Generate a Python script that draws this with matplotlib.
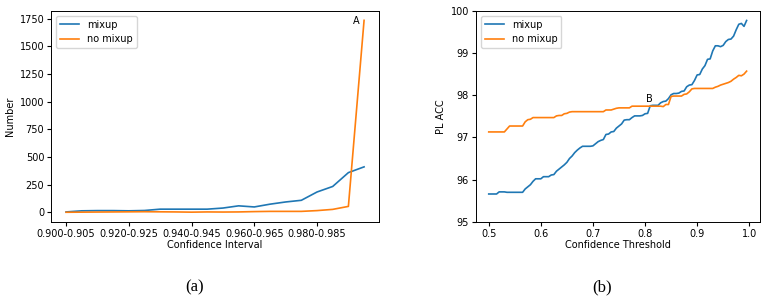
import matplotlib as mpl
mpl.use('Agg')
import matplotlib.pyplot as plt
import numpy as np

# (a) number of samples per confidence interval
intervals = ["%.3f-%.3f" % (0.900 + 0.005 * i, 0.905 + 0.005 * i) for i in range(20)]
num_mixup = [5, 15, 17, 17, 15, 18, 30, 30, 30, 30,
             40, 60, 50, 75, 95, 110, 185, 235, 360, 412]
num_nomixup = [2, 3, 4, 5, 6, 7, 6, 5, 3, 5,
               4, 5, 8, 10, 10, 10, 17, 28, 55, 1735]

# (b) pseudo-label accuracy vs confidence threshold
thresholds = np.round(np.arange(0.5, 0.9951, 0.005), 3)
acc_mixup = [95.66, 95.66, 95.66, 95.66, 95.71, 95.71, 95.71, 95.70, 95.70, 95.70,
             95.70, 95.70, 95.70, 95.70, 95.78, 95.83, 95.88, 95.96, 96.02, 96.02,
             96.02, 96.07, 96.07, 96.07, 96.11, 96.12, 96.20, 96.25, 96.30, 96.35,
             96.41, 96.50, 96.56, 96.64, 96.70, 96.75, 96.79, 96.79, 96.79, 96.79,
             96.80, 96.85, 96.90, 96.93, 96.95, 97.07, 97.08, 97.13, 97.14, 97.22,
             97.27, 97.32, 97.41, 97.42, 97.42, 97.47, 97.51, 97.51, 97.51, 97.52,
             97.56, 97.57, 97.75, 97.76, 97.76, 97.76, 97.82, 97.85, 97.86, 97.92,
             98.01, 98.04, 98.04, 98.05, 98.09, 98.10, 98.20, 98.24, 98.25, 98.35,
             98.48, 98.49, 98.62, 98.70, 98.85, 98.86, 99.05, 99.17, 99.17, 99.15,
             99.18, 99.27, 99.32, 99.33, 99.40, 99.55, 99.68, 99.70, 99.63, 99.77]
acc_nomixup = [97.13, 97.13, 97.13, 97.13, 97.13, 97.13, 97.13, 97.20, 97.27, 97.27,
               97.27, 97.27, 97.27, 97.27, 97.37, 97.42, 97.43, 97.47, 97.47, 97.47,
               97.47, 97.47, 97.47, 97.47, 97.47, 97.47, 97.51, 97.52, 97.52, 97.56,
               97.57, 97.60, 97.61, 97.61, 97.61, 97.61, 97.61, 97.61, 97.61, 97.61,
               97.61, 97.61, 97.61, 97.61, 97.61, 97.65, 97.65, 97.65, 97.67, 97.69,
               97.70, 97.70, 97.70, 97.70, 97.70, 97.74, 97.74, 97.74, 97.74, 97.74,
               97.74, 97.74, 97.74, 97.74, 97.74, 97.74, 97.74, 97.73, 97.78, 97.78,
               97.97, 97.98, 97.98, 97.98, 97.98, 98.02, 98.03, 98.08, 98.15, 98.16,
               98.16, 98.16, 98.16, 98.16, 98.16, 98.16, 98.16, 98.19, 98.21, 98.24,
               98.26, 98.28, 98.30, 98.33, 98.38, 98.42, 98.47, 98.46, 98.50, 98.57]

fs = 7
fig = plt.figure(figsize=(7.75, 2.99), dpi=100)
ax1 = fig.add_axes([0.066, 0.258, 0.423, 0.706])
ax2 = fig.add_axes([0.614, 0.258, 0.366, 0.706])

x = np.arange(len(intervals))
ax1.plot(x, num_mixup, color='#1f77b4', lw=1.2, label='mixup')
ax1.plot(x, num_nomixup, color='#ff7f0e', lw=1.2, label='no mixup')
ax1.set_xticks(x[::4])
ax1.set_xticklabels(intervals[::4])
ax1.set_yticks([0, 250, 500, 750, 1000, 1250, 1500, 1750])
ax1.set_xlabel('Confidence Interval', fontsize=fs, labelpad=1)
ax1.set_ylabel('Number', fontsize=fs, labelpad=3)
ax1.text(18.5, 1725, 'A', fontsize=fs, ha='center', va='center')
ax1.legend(loc='upper left', fontsize=fs)

ax2.plot(thresholds, acc_mixup, color='#1f77b4', lw=1.2, label='mixup')
ax2.plot(thresholds, acc_nomixup, color='#ff7f0e', lw=1.2, label='no mixup')
ax2.set_ylim(95, 100)
ax2.set_xlabel('Confidence Threshold', fontsize=fs, labelpad=1)
ax2.set_ylabel('PL ACC', fontsize=fs, labelpad=3)
ax2.text(0.809, 97.92, 'B', fontsize=fs, ha='center', va='center')
ax2.legend(loc='upper left', fontsize=fs)

for ax in (ax1, ax2):
    ax.tick_params(labelsize=fs, length=3, pad=2)
    for s in ax.spines.values():
        s.set_linewidth(0.7)

fig.text(195 / 775, 1 - 287 / 299, '(a)', fontsize=12, family='Liberation Serif',
         ha='center', va='center')
fig.text(602 / 775, 1 - 287 / 299, '(b)', fontsize=12, family='Liberation Serif',
         ha='center', va='center')

fig.savefig('out.png', dpi=100)
